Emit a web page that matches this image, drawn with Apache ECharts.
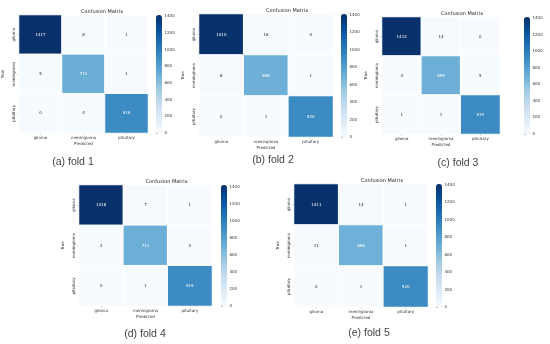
<!DOCTYPE html>
<html>
<head>
<meta charset="utf-8">
<script src="https://cdn.jsdelivr.net/npm/echarts@6/dist/echarts.min.js"></script>
<style>html,body{margin:0;padding:0;background:#fff}#c{width:550px;height:344px}</style>
</head>
<body>
<div id="c"></div>
<script>
const categories = ['glioma', 'meningioma', 'pituitary'];
const fold1 = [[1417, 8, 1], [5, 711, 1], [0, 4, 919]];
const fold2 = [[1410, 16, 0], [8, 698, 1], [0, 1, 920]];
const fold3 = [[1412, 14, 0], [4, 699, 5], [1, 1, 919]];
const fold4 = [[1418, 7, 1], [2, 711, 0], [0, 1, 919]];
const fold5 = [[1411, 14, 1], [11, 696, 1], [0, 1, 920]];
const folds = [fold1, fold2, fold3, fold4, fold5];
const captions = ['(a) fold 1', '(b) fold 2', '(c) fold 3', '(d) fold 4', '(e) fold 5'];
const colorbarTicks = [0, 200, 400, 600, 800, 1000, 1200, 1400];
const chartTitle = 'Confusion Matrix';
const xName = 'Predicted';
const yName = 'True';

// layout (pixels)
const frames = [
  {l: 14, t: 15, w: 134, h: 118, cb: 156, cx: 73, cy: 162},
  {l: 199, t: 14, w: 134, h: 123, cb: 341, cx: 273, cy: 160},
  {l: 382, t: 17, w: 118, h: 117, cb: 524, cx: 458, cy: 163},
  {l: 79, t: 185, w: 133, h: 121, cb: 221, cx: 145, cy: 334},
  {l: 294, t: 184, w: 134, h: 123, cb: 436, cx: 369, cy: 333}
];
const blues = ['#f7fbff', '#deebf7', '#c6dbef', '#9ecae1', '#6baed6', '#4292c6', '#2171b5', '#08519c', '#08306b'];
const FONT = 'DejaVu Sans';

const grid = [], xAxis = [], yAxis = [], series = [], visualMap = [], graphic = [];
folds.forEach((m, i) => {
  const f = frames[i];
  const vmax = Math.max(...m.flat());
  const gh = 2 * i, gc = 2 * i + 1;
  grid.push({left: f.l, top: f.t, width: f.w, height: f.h});
  grid.push({left: f.cb, top: f.t, width: 6, height: f.h, show: false});
  xAxis.push({
    gridIndex: gh, type: 'category', data: categories, position: 'bottom',
    name: xName, nameLocation: 'middle', nameGap: 9,
    nameTextStyle: {fontSize: 4, color: '#333', fontFamily: FONT},
    axisLine: {show: false}, axisTick: {show: true, alignWithLabel: true, length: 1.5, lineStyle: {color: '#555', width: 0.5}},
    axisLabel: {fontSize: 4, color: '#333', margin: 3, fontFamily: FONT},
    splitLine: {show: false}, splitArea: {show: false}
  });
  xAxis.push({gridIndex: gc, type: 'value', show: false, min: 0, max: 1});
  yAxis.push({
    gridIndex: gh, type: 'category', data: categories, inverse: true,
    name: yName, nameLocation: 'middle', nameGap: 14, nameRotate: 90,
    nameTextStyle: {fontSize: 4, color: '#333', fontFamily: FONT},
    axisLine: {show: false}, axisTick: {show: true, alignWithLabel: true, length: 1.5, lineStyle: {color: '#555', width: 0.5}},
    axisLabel: {fontSize: 4, color: '#333', margin: 3, rotate: 90, fontFamily: FONT},
    splitLine: {show: false}, splitArea: {show: false}
  });
  yAxis.push({
    gridIndex: gc, type: 'value', position: 'right', min: 0, max: vmax,
    axisLine: {show: false}, splitLine: {show: false},
    axisTick: {show: true, length: 1.5, customValues: colorbarTicks, lineStyle: {color: '#555', width: 0.5}},
    axisLabel: {fontSize: 4, color: '#333', margin: 2.5, customValues: colorbarTicks, fontFamily: FONT, formatter: v => String(v)}
  });
  const data = [];
  m.forEach((row, r) => row.forEach((v, c) => {
    data.push({value: [c, r, v], label: {color: v / vmax > 0.45 ? '#ffffff' : '#262626'}});
  }));
  series.push({
    type: 'heatmap', xAxisIndex: gh, yAxisIndex: gh, data: data,
    itemStyle: {borderColor: '#ffffff', borderWidth: 1},
    label: {show: true, fontSize: 4, fontFamily: FONT, formatter: p => String(p.value[2])},
    emphasis: {disabled: true}, silent: true, animation: false
  });
  series.push({type: 'scatter', xAxisIndex: gc, yAxisIndex: gc, data: [], silent: true});
  visualMap.push({
    type: 'continuous', seriesIndex: 2 * i, min: 0, max: vmax, show: true,
    orient: 'vertical', left: f.cb, top: f.t, itemWidth: 6, itemHeight: f.h,
    padding: 0, text: null, calculable: false, hoverLink: false, realtime: false,
    inRange: {color: blues}
  });
  graphic.push({
    type: 'text', left: f.l + f.w / 2, top: f.t - 6,
    style: {text: chartTitle, font: '5px "' + FONT + '"', fill: '#222', align: 'center'}
  });
  graphic.push({
    type: 'text', x: f.cx, y: f.cy,
    style: {text: captions[i], font: '10.5px "Liberation Sans"', fill: '#444', align: 'center', verticalAlign: 'middle'}
  });
});

const chart = echarts.init(document.getElementById('c'), null, {renderer: 'canvas'});
chart.setOption({
  animation: false, backgroundColor: '#ffffff',
  grid, xAxis, yAxis, series, visualMap, graphic
});
</script>
</body>
</html>
